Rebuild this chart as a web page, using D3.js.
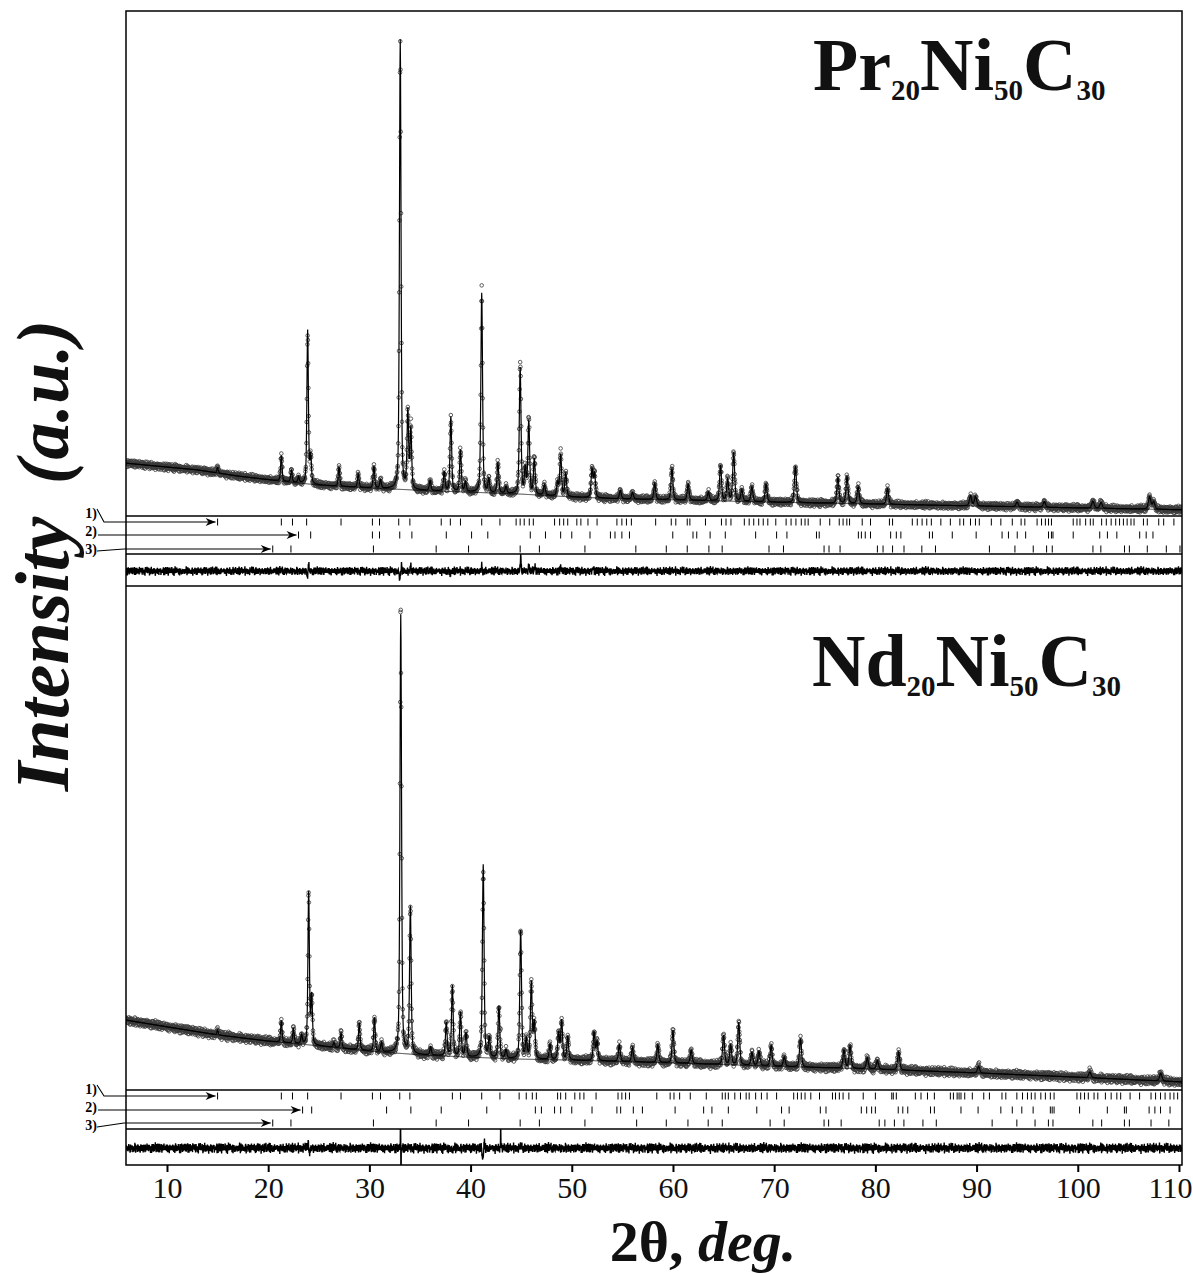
<!DOCTYPE html>
<html><head><meta charset="utf-8">
<script src="https://cdn.jsdelivr.net/npm/d3@7"></script>
<style>body{margin:0;background:#fff}svg{display:block}</style>
</head><body><svg id="c" width="1193" height="1274"></svg>
<script>
// ---------------- DATA ----------------
const xTicks = [10,20,30,40,50,60,70,80,90,100,110];
const phaseLabels = ["1)","2)","3)"];

// background (2theta, intensity a.u.)
const bgPr = [[6,109],[10,101],[13,95],[17,82],[21,72],[25,63],[30,57],[36,51],[40,48],[45,44],[50,38],[55,34],[60,32],[70,27],[80,23],[90,19],[100,15],[110.3,11]];
const bgNd = [[6,147],[10,133],[15,116],[20,103],[25,93],[30,82],[35,74],[40,69],[45,65],[50,63],[60,57],[70,50],[80,44],[90,36],[100,27],[110.3,17]];

// peaks (2theta, net height)
const peaksPr = [[15.0,12],[21.3,54],[22.3,25],[23.0,12],[23.9,323],[24.2,57],[27.0,41],[28.9,28],[30.45,46],[31.1,18],
 [33.05,946],[33.8,162],[34.1,126],[36.0,21],[37.4,41],[38.05,157],[39.0,88],[39.5,21],[41.1,420],[41.8,28],[42.7,64],[43.5,14],
 [44.9,265],[45.4,52],[45.75,153],[46.3,74],[47.3,22],[48.6,27],[48.9,87],[49.4,49],[52.0,60],[52.25,50],[54.8,18],[56.0,14],
 [58.2,34],[59.9,67],[61.5,34],[63.5,18],[64.7,75],[65.4,45],[66.0,102],[66.8,24],[67.8,31],[69.2,38],[72.1,77],[76.3,54],[77.2,56],
 [78.3,36],[81.2,33],[89.4,21],[89.9,20],[94.0,10],[96.7,12],[101.5,15],[102.3,12],[107.1,26],[107.5,15]];
const peaksNd = [[15.0,10],[21.3,46],[22.5,32],[23.3,19],[24.0,321],[24.3,101],[26.5,10],[27.2,33],[29.0,57],[30.5,71],[31.2,19],
 [33.1,923],[34.05,309],[36.05,17],[37.6,70],[38.2,149],[39.0,93],[39.55,51],[41.25,406],[41.85,42],[42.8,109],[43.5,18],
 [44.95,270],[45.5,40],[46.0,161],[46.3,77],[47.85,32],[48.7,57],[49.0,82],[49.6,49],[52.2,60],[52.5,40],[54.7,35],[56.0,30],
 [58.5,37],[60.0,69],[61.8,28],[65.0,62],[65.7,41],[66.5,90],[67.8,27],[68.5,30],[69.7,43],[71.0,20],[72.6,60],[76.9,38],[77.5,47],
 [79.2,23],[80.2,18],[82.3,38],[90.2,14],[101.2,12],[108.2,16]];

// misfit features of the difference curve (2theta, amplitude, width)
const diffPr = [[23.88,-12,0.05],[24.0,14,0.05],[33.0,-16,0.07],[33.18,9,0.05],[34.1,12,0.06],[38.0,-10,0.06],[41.1,14,0.06],
 [41.22,-6,0.04],[44.95,30,0.06],[45.75,14,0.06],[46.35,10,0.06],[48.9,8,0.06],[52.1,6,0.1]];
const diffNd = [[23.95,14,0.05],[24.08,-16,0.05],[33.08,90,0.015],[33.13,-90,0.015],[41.2,-22,0.08],[41.36,10,0.05],
 [42.98,70,0.015],[38.2,-8,0.06],[45.0,8,0.05]];

// residual noise texture
const noiseA = [0.6,-0.9,0.3,0.8,-0.4,-1.0,0.5,0.1,-0.7,0.9,-0.2,0.4,-0.8,0.7,0.0,-0.5,1.0,-0.3,0.2,-0.9,0.6,-0.1,0.8,-0.6,0.3,-0.4,0.9,-1.0,0.1,0.5,-0.7,0.4,-0.2,0.7,-0.8,0.2,-0.5];
const noiseB = [-0.4,0.8,-0.1,-0.9,0.5,0.2,-0.6,1.0,-0.3,0.4,-0.8,0.6,0.0,-0.5,0.9,-0.7,0.3,0.1,-1.0,0.7,-0.2,0.5,-0.6];

// Bragg reflection positions (2theta) for the three phases
const braggPr = [
 [15.0,21.3,22.4,23.8,27.2,30.3,31.0,32.9,34.0,37.1,38.0,39.0,41.1,42.9,44.5,44.9,45.3,45.8,46.2,48.3,48.8,49.2,49.6,50.5,50.9,51.6,52.5,
  54.46,54.95,55.40,55.89,58.29,59.83,60.28,61.41,61.67,63.21,64.79,65.24,65.73,67.05,67.53,67.98,68.47,68.92,69.37,70.16,71.18,71.67,
  72.15,72.68,73.05,73.36,74.55,75.49,76.43,76.81,77.18,77.45,78.70,79.52,81.39,81.70,83.65,84.14,84.62,85.08,85.53,86.47,87.41,88.35,
  88.72,89.40,89.89,90.27,91.46,92.40,93.53,94.40,94.77,95.98,96.42,96.80,97.11,97.40,99.55,99.92,100.22,100.78,101.24,101.53,102.36,
  102.82,103.30,103.75,104.13,104.51,104.88,105.26,105.56,106.49,106.87,108.00,108.49,109.50],
 [23.0,24.2,30.3,31.0,33.0,34.2,37.6,40.1,41.7,45.9,47.4,48.9,50.0,51.8,
  53.82,54.27,54.95,55.70,59.98,61.98,62.35,63.67,65.17,68.17,70.24,71.26,74.18,74.45,78.32,78.62,79.0,79.52,81.51,82.07,82.52,85.34,
  85.64,87.60,89.96,92.52,93.15,94.02,94.85,97.11,97.40,97.55,99.55,102.17,102.93,103.86,106.12,106.76,107.43],
 [20.45,22.25,30.4,36.6,39.8,44.9,46.8,51.3,56.33,59.34,61.41,63.55,64.86,69.49,70.92,74.93,75.42,76.51,80.20,80.76,81.70,82.83,
  84.59,85.94,91.27,93.79,95.60,96.92,97.48,101.50,102.28,104.62,105.10,106.87,108.75,110.1]
];
const braggNd = [
 [15.0,21.3,22.4,23.9,27.2,30.3,31.1,33.0,34.0,38.2,39.0,41.1,42.9,44.8,45.5,46.1,46.5,48.6,48.9,49.4,50.3,50.8,51.2,52.4,
  54.57,54.95,55.32,55.70,58.40,59.72,60.10,60.66,61.71,63.29,64.87,65.17,65.47,66.11,66.67,67.23,67.53,68.17,68.74,69.30,70.24,71.93,
  72.30,72.68,73.05,73.62,74.48,75.76,76.06,76.44,76.81,77.38,78.80,80.00,81.62,81.77,82.07,83.95,84.51,85.15,85.83,87.41,87.71,88.08,
  88.27,88.46,88.83,89.58,90.71,91.27,92.51,92.89,93.98,94.54,95.03,95.41,95.78,96.35,96.80,97.29,97.66,99.92,100.29,100.67,101.04,
  101.61,101.98,102.73,103.30,103.86,104.24,105.17,106.11,107.24,107.69,108.18,108.63,109.12,109.50,109.87],
 [23.4,24.3,31.7,34.1,37.1,41.6,46.4,47.0,48.3,48.9,50.0,52.0,
  54.46,54.83,56.08,56.98,60.21,63.03,63.85,65.47,68.28,70.73,71.48,74.56,75.12,78.61,79.14,79.63,80.00,82.26,82.71,83.20,85.45,85.83,
  88.46,90.15,92.40,93.53,94.47,95.59,97.29,97.47,97.66,100.18,102.92,104.61,104.80,107.05,107.62,108.18,109.12],
 [20.45,22.25,30.4,36.6,39.8,44.9,46.8,51.3,56.41,59.34,61.48,63.48,64.87,69.60,70.99,74.93,75.38,76.62,80.38,80.94,81.88,82.82,
  84.70,86.02,91.54,93.98,95.78,97.10,97.55,101.49,102.36,104.61,105.10,107.24,109.00]
];

// ---------------- LAYOUT ----------------
const svg = d3.select("#c");
const X0 = 126, X1 = 1182, Y0 = 11, Y1 = 1165;
const x = d3.scaleLinear().domain([5.95, 110.3]).range([X0, X1]);
const SERIF = "'Liberation Serif','Times New Roman',serif";

const panels = [
  {title:["Pr","20","Ni","50","C","30"], tx:813, ty:90, bg:bgPr, peaks:peaksPr, diff:diffPr, bragg:braggPr,
   top:Y0, patBase:515, patTop:40, rowLine:516, rows:[522,535,549], labelY:[518,536,554], rowEnd:554, diffBase:571, bottom:586, noiseOff:0, noiseAmp:11},
  {title:["Nd","20","Ni","50","C","30"], tx:812, ty:686, bg:bgNd, peaks:peaksNd, diff:diffNd, bragg:braggNd,
   top:586, patBase:1090, patTop:615, rowLine:1090, rows:[1096,1110,1123], labelY:[1094,1112,1130], rowEnd:1129, diffBase:1148, bottom:Y1, noiseOff:11, noiseAmp:13}
];

const defs = svg.append("defs");
defs.append("marker").attr("id","arr").attr("viewBox","0 0 10 8").attr("refX",10).attr("refY",4)
  .attr("markerWidth",11).attr("markerHeight",8).attr("markerUnits","userSpaceOnUse").attr("orient","auto")
  .append("path").attr("d","M0,0 L10,4 L0,8 L3,4 Z").attr("fill","#000");

const grid = d3.range(5.95, 110.3, 0.025);

panels.forEach((p, pi) => {
  const y = d3.scaleLinear().domain([0,1000]).range([p.patBase, p.patTop]);
  const bgS = d3.scaleLinear().domain(p.bg.map(d=>d[0])).range(p.bg.map(d=>d[1]));
  const yd = d3.scaleLinear().domain([-50,50]).range([p.diffBase+23.75, p.diffBase-23.75]);
  const calc = tt => {
    let v = bgS(tt);
    for (const [c,h] of p.peaks) {
      const w = 0.14 + 0.0013*c;
      const u = (tt-c)/(w/2);
      if (Math.abs(u) > 60) continue;
      v += h*(0.55*Math.exp(-Math.LN2*u*u) + 0.45/(1+u*u));
    }
    return v;
  };
  const diff = (tt, i) => {
    let v = (noiseA[(i+p.noiseOff)%noiseA.length] + 0.6*noiseB[(i*3+p.noiseOff)%noiseB.length]) * p.noiseAmp*0.6;
    for (const [c,a,w] of p.diff) { const u=(tt-c)/w; v += a*Math.exp(-u*u); }
    return v;
  };
  const rows = grid.map((tt,i) => ({tt, c: calc(tt), d: diff(tt,i), b: bgS(tt)}));

  const cid = "clipP"+pi;
  defs.append("clipPath").attr("id",cid).append("rect").attr("x",X0).attr("y",p.top).attr("width",X1-X0).attr("height",p.rowLine-p.top);
  const cid2 = "clipD"+pi;
  defs.append("clipPath").attr("id",cid2).append("rect").attr("x",X0).attr("y",p.rowEnd).attr("width",X1-X0).attr("height",p.bottom-p.rowEnd);

  const g = svg.append("g").attr("clip-path",`url(#${cid})`);
  // observed points
  g.append("g").selectAll("circle").data(rows).join("circle")
    .attr("cx",d=>x(d.tt)).attr("cy",d=>y(d.c+d.d*0.8)).attr("r",1.8)
    .attr("fill","none").attr("stroke","#3a3a3a").attr("stroke-width",0.8);
  // background
  g.append("path").datum(rows).attr("fill","none").attr("stroke","#000").attr("stroke-width",0.8)
    .attr("d", d3.line().x(d=>x(d.tt)).y(d=>y(d.b)));
  // calculated
  g.append("path").datum(rows).attr("fill","none").attr("stroke","#000").attr("stroke-width",1.2)
    .attr("d", d3.line().x(d=>x(d.tt)).y(d=>y(d.c)));

  // difference
  svg.append("g").attr("clip-path",`url(#${cid2})`).append("path").datum(rows)
    .attr("fill","none").attr("stroke","#000").attr("stroke-width",1.4)
    .attr("d", d3.line().x(d=>x(d.tt)).y(d=>yd(d.d)));

  // separator lines
  [p.rowLine, p.rowEnd].forEach(yy => svg.append("line").attr("x1",X0).attr("x2",X1).attr("y1",yy).attr("y2",yy)
      .attr("stroke","#000").attr("stroke-width",1.3));

  // Bragg ticks
  p.bragg.forEach((list, r) => {
    svg.append("g").selectAll("line").data(list.filter(v=>v<=110.3)).join("line")
      .attr("x1",d=>x(d)).attr("x2",d=>x(d)).attr("y1",p.rows[r]-3.5).attr("y2",p.rows[r]+3.5)
      .attr("stroke","#000").attr("stroke-width",1);
    // labels + arrows
    const ly = p.labelY[r];
    svg.append("text").attr("x",97).attr("y",ly).attr("text-anchor","end")
      .attr("font-family",SERIF).attr("font-weight","bold").attr("font-size",14).text(phaseLabels[r]);
    const tip = x(list[0]) - 2;
    const ay = p.rows[r];
    let d;
    if (r===0) d = `M97,${ly-9} L104,${ay} L${tip},${ay}`;
    else if (r===1) d = `M98,${ay} L${tip},${ay}`;
    else d = `M97,${ly-3} L124,${ay} L${tip},${ay}`;
    svg.append("path").attr("d",d).attr("fill","none").attr("stroke","#000").attr("stroke-width",1.1)
      .attr("marker-end","url(#arr)");
  });

  // title
  const t = svg.append("text").attr("x",p.tx).attr("y",p.ty).attr("font-family",SERIF).attr("font-weight","bold")
    .attr("font-size",74).attr("fill","#111");
  p.title.forEach((s,k) => {
    const sub = k%2===1;
    t.append("tspan").attr("font-size", sub?29:74).attr("dy", sub?10:(k===0?0:-10)).text(s);
  });
});

// frame
svg.append("rect").attr("x",X0).attr("y",Y0).attr("width",X1-X0).attr("height",Y1-Y0)
  .attr("fill","none").attr("stroke","#000").attr("stroke-width",1.5);
// panel separator
svg.append("line").attr("x1",X0).attr("x2",X1).attr("y1",586).attr("y2",586).attr("stroke","#000").attr("stroke-width",1.5);

// x axis
const ax = svg.append("g").attr("transform",`translate(0,${Y1})`)
  .call(d3.axisBottom(x).tickValues(xTicks).tickSize(7).tickPadding(5).tickFormat(d3.format("d")));
ax.select(".domain").remove();
ax.selectAll(".tick line").attr("stroke-width",2);
ax.selectAll(".tick text").attr("font-family",SERIF).attr("font-size",30).attr("fill","#111");
ax.selectAll(".tick text").filter(d=>d===110).attr("text-anchor","end").attr("x",13);

// axis titles
const xl = svg.append("text").attr("x",703).attr("y",1261).attr("text-anchor","middle")
  .attr("font-family",SERIF).attr("font-weight","bold").attr("font-size",58).attr("fill","#111");
xl.append("tspan").text("2θ, ");
xl.append("tspan").attr("font-style","italic").text("deg.");

svg.append("text").attr("transform","translate(68,654) rotate(-90)").attr("text-anchor","middle")
  .attr("font-family",SERIF).attr("font-weight","bold").attr("font-style","italic").attr("font-size",76).attr("fill","#111")
  .text("Intensity");
svg.append("text").attr("transform","translate(68,402) rotate(-90)").attr("text-anchor","middle")
  .attr("font-family",SERIF).attr("font-weight","bold").attr("font-style","italic").attr("font-size",74).attr("fill","#111")
  .text("(a.u.)");
</script></body></html>
